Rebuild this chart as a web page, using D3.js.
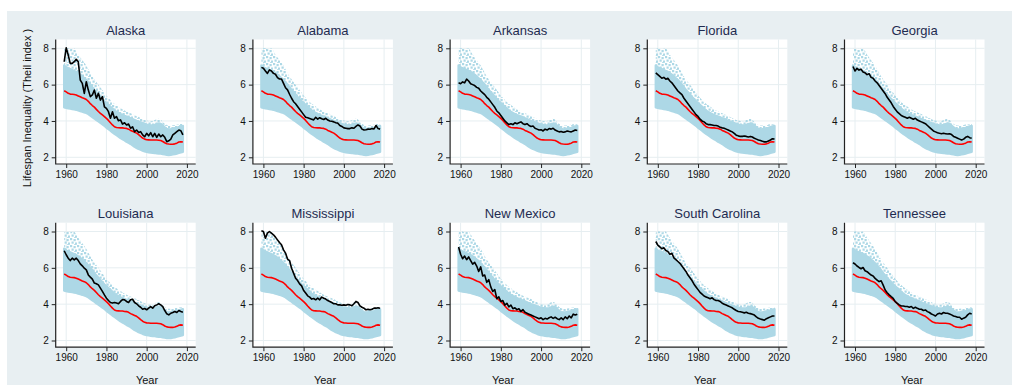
<!DOCTYPE html>
<html>
<head>
<meta charset="utf-8">
<script src="https://cdn.jsdelivr.net/npm/d3@7"></script>
<style>
  body { margin: 0; background: #fff; }
  text { font-family: "Liberation Sans", Arial, sans-serif; }
</style>
</head>
<body>
<script>
var width = 1012, height = 385;

const years = d3.range(1959, 2019);
const xTicks = [1960, 1980, 2000, 2020];
const yTicks = [2, 4, 6, 8];

// all-state cloud (low edge, top of dense part, top of sparse dots)
const cloudLow = [4.75,4.72,4.70,4.68,4.66,4.64,4.62,4.58,4.55,4.52,4.48,4.44,4.38,4.30,4.22,4.14,4.05,3.98,3.90,3.82,
  3.74,3.64,3.55,3.47,3.38,3.30,3.22,3.14,3.06,3.00,2.94,2.86,2.80,2.74,2.66,2.58,2.52,2.46,2.42,2.37,
  2.33,2.30,2.28,2.26,2.25,2.24,2.22,2.21,2.20,2.18,2.16,2.14,2.13,2.14,2.16,2.18,2.21,2.24,2.27,2.30];
const cloudMid = [7.05,6.95,6.90,6.85,6.80,6.75,6.70,6.62,6.55,6.45,6.35,6.25,6.12,6.00,5.85,5.70,5.58,5.45,5.32,5.20,
  5.08,4.98,4.88,4.78,4.68,4.58,4.50,4.44,4.38,4.33,4.28,4.24,4.20,4.15,4.10,4.05,4.00,3.96,3.92,3.88,
  3.84,3.80,3.78,3.76,3.76,3.78,3.82,3.86,3.84,3.74,3.64,3.56,3.54,3.55,3.58,3.60,3.62,3.66,3.70,3.72];
const cloudHigh = [7.95,8.02,8.00,7.95,7.98,8.00,7.85,7.65,7.50,7.35,7.20,7.05,6.85,6.65,6.45,6.30,6.15,6.00,5.85,5.70,
  5.55,5.40,5.28,5.15,5.05,4.95,4.88,4.80,4.72,4.65,4.58,4.52,4.46,4.42,4.38,4.32,4.28,4.22,4.16,4.10,
  4.05,4.02,4.00,3.98,4.00,4.05,4.10,4.12,4.08,3.95,3.85,3.78,3.75,3.75,3.76,3.78,3.80,3.82,3.83,3.83];

// national average (red)
const usMean = [5.66,5.60,5.52,5.48,5.47,5.46,5.43,5.38,5.33,5.28,5.24,5.18,5.08,4.95,4.85,4.76,4.64,4.52,4.42,4.33,
  4.24,4.14,4.03,3.90,3.78,3.68,3.64,3.63,3.62,3.62,3.60,3.59,3.55,3.48,3.43,3.38,3.33,3.25,3.15,3.06,
  3.00,2.97,2.96,2.95,2.95,2.95,2.95,2.94,2.92,2.87,2.80,2.75,2.73,2.72,2.72,2.74,2.78,2.84,2.86,2.84];

const alaska = [7.26,8.03,7.63,7.17,7.17,7.26,7.39,7.26,6.25,6.07,5.52,6.16,5.70,5.34,5.43,5.70,5.25,5.52,5.15,5.34,
  4.78,4.69,4.51,4.15,4.51,4.15,4.24,4.01,4.06,3.83,3.90,3.78,3.83,3.60,3.68,3.41,3.50,3.36,3.41,3.23,
  3.13,3.32,3.18,3.36,3.13,3.32,3.10,3.28,3.13,3.23,3.10,2.86,2.91,3.00,3.23,3.32,3.41,3.50,3.46,3.23];
const alabama = [6.95,6.90,6.75,6.62,6.81,6.75,6.62,6.57,6.39,6.31,6.31,6.07,5.83,5.71,5.47,5.25,5.06,4.95,4.80,4.65,
  4.50,4.35,4.20,4.18,4.14,4.10,4.06,4.20,4.10,4.18,4.12,4.08,4.15,4.05,4.00,3.98,3.95,3.90,3.88,3.75,
  3.70,3.62,3.60,3.58,3.58,3.62,3.60,3.70,3.78,3.72,3.55,3.50,3.52,3.55,3.54,3.58,3.56,3.75,3.58,3.55];
const arkansas = [6.10,6.05,6.15,6.10,6.30,6.20,6.05,6.00,5.95,5.85,5.80,5.65,5.55,5.45,5.30,5.20,5.05,4.90,4.75,4.55,
  4.45,4.30,4.15,4.00,3.90,3.80,3.85,3.80,3.90,3.85,3.90,3.95,3.85,3.80,3.85,3.75,3.70,3.72,3.60,3.55,
  3.50,3.52,3.45,3.55,3.50,3.58,3.55,3.60,3.50,3.45,3.40,3.42,3.38,3.40,3.45,3.42,3.40,3.45,3.50,3.48];
const florida = [6.65,6.55,6.45,6.35,6.40,6.30,6.35,6.20,6.10,5.95,5.80,5.65,5.55,5.45,5.25,5.10,4.95,4.80,4.65,4.50,
  4.35,4.25,4.10,4.00,3.95,3.85,3.80,3.80,3.78,3.75,3.75,3.72,3.65,3.62,3.60,3.55,3.50,3.45,3.40,3.32,
  3.22,3.18,3.15,3.15,3.17,3.15,3.12,3.15,3.12,3.05,3.00,2.95,2.92,2.88,2.85,2.85,2.90,2.95,3.02,3.00];
const georgia = [7.00,6.75,6.90,6.80,6.85,6.70,6.65,6.55,6.60,6.40,6.35,6.20,6.10,5.95,5.80,5.65,5.50,5.30,5.15,5.00,
  4.80,4.65,4.50,4.40,4.30,4.25,4.20,4.15,4.20,4.15,4.10,4.15,4.05,4.00,3.95,3.90,3.85,3.75,3.65,3.55,
  3.45,3.40,3.35,3.32,3.30,3.32,3.30,3.28,3.30,3.25,3.15,3.10,3.05,3.00,2.95,3.00,3.10,3.15,3.08,3.05];
const louisiana = [6.94,6.72,6.53,6.40,6.53,6.44,6.53,6.40,6.22,6.11,5.98,5.89,5.61,5.49,5.38,5.16,5.12,5.06,4.88,4.70,
  4.51,4.33,4.20,4.09,4.06,4.09,4.06,4.02,4.15,4.25,4.24,4.15,4.09,4.24,4.27,4.09,4.02,3.91,3.83,3.72,
  3.76,3.69,3.78,3.87,3.78,3.91,3.96,4.02,3.96,3.87,3.65,3.47,3.41,3.50,3.54,3.60,3.54,3.65,3.60,3.56];
const mississippi = [8.04,8.00,7.63,7.91,8.00,7.91,7.82,7.69,7.54,7.39,7.27,6.99,6.81,6.48,6.40,5.98,5.71,5.43,5.30,5.12,
  5.01,4.75,4.61,4.46,4.39,4.28,4.31,4.24,4.33,4.24,4.39,4.33,4.28,4.20,4.15,4.09,4.02,4.02,3.96,3.96,
  3.94,3.96,3.94,3.98,3.96,3.91,4.02,4.15,4.09,3.91,3.83,3.78,3.69,3.72,3.69,3.72,3.78,3.78,3.80,3.78];
const newMexico = [7.15,6.75,6.50,6.65,6.45,6.60,6.40,6.20,6.30,6.10,5.80,6.05,5.55,5.60,5.20,5.35,4.95,4.70,4.80,4.30,
  4.40,4.15,4.20,3.95,4.05,3.85,3.95,3.75,3.80,3.70,3.75,3.60,3.70,3.55,3.50,3.45,3.40,3.35,3.30,3.25,
  3.20,3.25,3.15,3.22,3.18,3.25,3.30,3.22,3.28,3.20,3.15,3.25,3.15,3.30,3.20,3.35,3.25,3.45,3.40,3.45];
const southCarolina = [7.45,7.25,7.15,7.05,7.10,6.95,6.90,6.75,6.80,6.55,6.45,6.35,6.25,6.10,5.95,5.80,5.60,5.45,5.30,5.10,
  4.95,4.80,4.65,4.55,4.45,4.40,4.35,4.30,4.35,4.25,4.20,4.20,4.15,4.05,4.00,3.95,3.90,3.85,3.80,3.72,
  3.65,3.60,3.58,3.55,3.52,3.55,3.50,3.48,3.45,3.40,3.30,3.22,3.18,3.15,3.12,3.20,3.25,3.30,3.35,3.35];
const tennessee = [6.28,6.21,6.10,6.02,5.95,6.02,5.84,5.79,5.69,5.60,5.55,5.42,5.33,5.24,5.29,5.05,4.78,4.63,4.51,4.41,
  4.32,4.14,4.05,3.96,3.90,3.90,3.87,3.87,3.83,3.87,3.77,3.83,3.77,3.72,3.72,3.65,3.68,3.59,3.54,3.46,
  3.41,3.35,3.46,3.50,3.46,3.54,3.50,3.50,3.46,3.41,3.35,3.32,3.28,3.28,3.17,3.23,3.28,3.41,3.50,3.46];

const stateNames = ["Alaska", "Alabama", "Arkansas", "Florida", "Georgia",
  "Louisiana", "Mississippi", "New Mexico", "South Carolina", "Tennessee"];
const stateValues = [alaska, alabama, arkansas, florida, georgia,
  louisiana, mississippi, newMexico, southCarolina, tennessee];

var svg = d3.select("body")
  .append("svg")
  .attr("width", width)
  .attr("height", height);

// speckle texture for the sparse top of the cloud
var pat = svg.append("defs").append("pattern")
  .attr("id", "speckle")
  .attr("width", 7).attr("height", 7)
  .attr("patternUnits", "userSpaceOnUse");
[[0, 0], [3.5, 1], [1.5, 3.5], [5, 4.5], [4, 6.2]].forEach(function(p) {
  pat.append("rect")
    .attr("x", p[0]).attr("y", p[1])
    .attr("width", 2.2).attr("height", 2.2)
    .attr("fill", "#add8e6");
});

svg.append("rect")
  .attr("x", 7).attr("y", 11)
  .attr("width", width - 7).attr("height", height - 11)
  .attr("fill", "#e8eff2");

const colStep = 197.2, rowStep = 183.2;
const yearLabelX = [147, 325, 503, 705, 912];

stateNames.forEach(function(name, i) {
  var col = i % 5, row = Math.floor(i / 5);
  var ax = 55.7 + colStep * col;
  var top = 39.5 + rowStep * row, bottom = 164 + rowStep * row;

  var x = d3.scaleLinear().domain([1960, 2020]).range([ax + 10.5, ax + 131.2]);
  var y = d3.scaleLinear().domain([2, 8]).range([157.3 + rowStep * row, 48.3 + rowStep * row]);

  var g = svg.append("g");

  g.append("rect")
    .attr("x", ax).attr("y", top)
    .attr("width", 140).attr("height", bottom - top)
    .attr("fill", "#fff");

  // grid
  g.selectAll(".vgrid").data(xTicks).enter().append("line")
    .attr("x1", d => x(d)).attr("x2", d => x(d))
    .attr("y1", top).attr("y2", bottom)
    .attr("stroke", "#e6eef1").attr("stroke-width", 1);
  g.selectAll(".hgrid").data(yTicks).enter().append("line")
    .attr("x1", ax).attr("x2", ax + 140)
    .attr("y1", d => y(d)).attr("y2", d => y(d))
    .attr("stroke", "#e6eef1").attr("stroke-width", 1);

  // cloud
  var sparse = d3.area()
    .x((d, k) => x(years[k]))
    .y0((d, k) => y(cloudMid[k]))
    .y1(d => y(d));
  g.append("path")
    .attr("d", sparse(cloudHigh))
    .attr("fill", "url(#speckle)")
    .attr("stroke", "none");

  var dense = d3.area()
    .x((d, k) => x(years[k]))
    .y0(d => y(d))
    .y1((d, k) => y(cloudMid[k]));
  g.append("path")
    .attr("d", dense(cloudLow))
    .attr("fill", "#add8e6")
    .attr("stroke", "#add8e6")
    .attr("stroke-width", 2.4)
    .attr("stroke-linejoin", "round");

  var line = d3.line()
    .x((d, k) => x(years[k]))
    .y(d => y(d));

  g.append("path")
    .attr("d", line(usMean))
    .attr("fill", "none")
    .attr("stroke", "#ff0000")
    .attr("stroke-width", 1.6)
    .attr("stroke-linejoin", "round");

  g.append("path")
    .attr("d", line(stateValues[i]))
    .attr("fill", "none")
    .attr("stroke", "#000")
    .attr("stroke-width", 1.6)
    .attr("stroke-linejoin", "round");

  // axes
  var yAxis = g.append("g")
    .attr("transform", "translate(" + ax + ",0)")
    .call(d3.axisLeft(y).tickValues(yTicks).tickSize(4).tickPadding(3).tickFormat(d3.format("d")));
  yAxis.select(".domain").remove();

  var xAxis = g.append("g")
    .attr("transform", "translate(0," + bottom + ")")
    .call(d3.axisBottom(x).tickValues(xTicks).tickSize(4).tickPadding(3).tickFormat(d3.format("d")));
  xAxis.select(".domain").remove();

  g.selectAll(".tick text")
    .attr("font-size", 10)
    .attr("fill", "#111")
    .style("font-family", "'Liberation Sans', Arial, sans-serif");
  g.selectAll(".tick line").attr("stroke", "#222");

  g.append("path")
    .attr("d", "M" + ax + "," + top + "V" + bottom + "H" + (ax + 140))
    .attr("fill", "none")
    .attr("stroke", "#222")
    .attr("stroke-width", 1.2);

  g.append("text")
    .attr("x", ax + 70).attr("y", 35 + rowStep * row)
    .attr("text-anchor", "middle")
    .attr("font-size", 13)
    .attr("fill", "#1e2b50")
    .text(name);

  if (row == 1) {
    g.append("text")
      .attr("x", yearLabelX[col]).attr("y", 384)
      .attr("text-anchor", "middle")
      .attr("font-size", 11)
      .attr("fill", "#111")
      .text("Year");
  }
});

svg.append("text")
  .attr("transform", "translate(31,108) rotate(-90)")
  .attr("text-anchor", "middle")
  .attr("font-size", 11)
  .attr("fill", "#111")
  .text("Lifespan Inequality (Theil index )");
</script>
</body>
</html>
